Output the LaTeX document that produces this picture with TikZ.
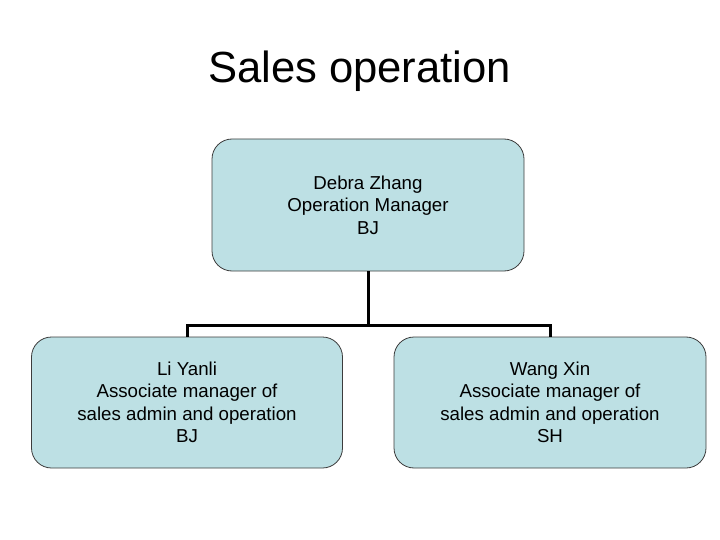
\documentclass[tikz,border=0pt]{standalone}
\usepackage{fontspec}
\setmainfont{Liberation Sans}
\definecolor{boxfill}{RGB}{189,224,228}
\definecolor{boxline}{RGB}{60,60,60}
\begin{document}
\begin{tikzpicture}[x=1pt,y=-1pt,
  orgbox/.style={draw=boxline, line width=0.8pt, fill=boxfill, rounded corners=20pt,
    align=center, inner sep=0pt, font=\fontsize{18.7}{22.5}\selectfont},
  link/.style={draw=black, line width=3pt, line join=miter}]
\useasboundingbox (0,0) rectangle (720,540);
\node[font=\fontsize{43.6}{50}\selectfont, anchor=base] (title) at (359.5,83) {Sales operation};
\node[orgbox, minimum width=312pt, minimum height=132pt] (top) at (368,205)
  {Debra Zhang\\Operation Manager\\BJ};
\node[orgbox, minimum width=311pt, minimum height=131pt] (left) at (187,402.5)
  {Li Yanli\\Associate manager of\\sales admin and operation\\BJ};
\node[orgbox, minimum width=312pt, minimum height=131pt] (right) at (550,402.5)
  {Wang Xin\\Associate manager of\\sales admin and operation\\SH};
\coordinate (j) at (368,325.5);
\draw[link] (top.south) -- (j);
\draw[link] (left.north) -- (left.north |- j) -- (right.north |- j) -- (right.north);
\end{tikzpicture}
\end{document}
